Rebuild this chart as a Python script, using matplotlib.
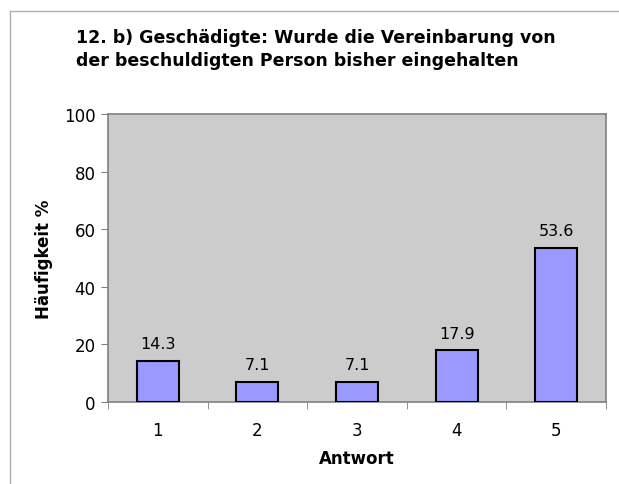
import matplotlib
matplotlib.use("Agg")
import matplotlib.pyplot as plt
from matplotlib.lines import Line2D
import numpy as np

categories = ["1", "2", "3", "4", "5"]
values = [14.3, 7.1, 7.1, 17.9, 53.6]
value_labels = ["14.3", "7.1", "7.1", "17.9", "53.6"]
yticks = [0, 20, 40, 60, 80, 100]

W, H = 619, 485
fig = plt.figure(figsize=(W / 100, H / 100), dpi=100)
fig.patch.set_facecolor("white")

# outer frame lines (top and left)
fig.add_artist(Line2D([10 / W, 1], [1 - 12 / H, 1 - 12 / H], color="#b0b0b0", lw=1))
fig.add_artist(Line2D([10 / W, 10 / W], [0, 1 - 12 / H], color="#b0b0b0", lw=1))

left, right, top, bottom = 108, 606, 115, 403
ax = fig.add_axes([left / W, 1 - bottom / H, (right - left) / W, (bottom - top) / H])
ax.set_facecolor("#cccccc")

x = np.arange(1, len(categories) + 1)
ax.bar(x, values, width=0.42, color="#9999ff", edgecolor="black", linewidth=1.5, zorder=3)
for xi, v, lab in zip(x, values, value_labels):
    ax.annotate(lab, (xi, v), xytext=(0, 7), textcoords="offset points",
                ha="center", va="bottom", fontsize=11.5, color="black")

ax.set_xlim(0.5, len(categories) + 0.5)
ax.set_ylim(0, 100)
ax.set_yticks(yticks)
ax.set_yticklabels([str(t) for t in yticks], fontsize=12)
ax.set_xticks(x)
ax.set_xticklabels(categories, fontsize=12)
ax.set_xticks(np.arange(0.5, len(categories) + 1), minor=True)
ax.tick_params(axis="x", which="major", length=0, pad=14)
ax.tick_params(axis="x", which="minor", length=5, color="#808080", direction="out")
ax.tick_params(axis="y", length=5, color="#808080", direction="out", pad=4)
for s in ax.spines.values():
    s.set_color("#808080")
    s.set_linewidth(1.2)

ax.set_xlabel("Antwort", fontsize=12, fontweight="bold", labelpad=7)
ax.set_ylabel("Häufigkeit %", fontsize=12, fontweight="bold", labelpad=8)

fig.text(76 / W, 1 - 29 / H, "12. b) Geschädigte: Wurde die Vereinbarung von\nder beschuldigten Person bisher eingehalten",
         fontsize=12.5, fontweight="bold", ha="left", va="top", linespacing=1.35)

fig.savefig("out.png", dpi=100)
